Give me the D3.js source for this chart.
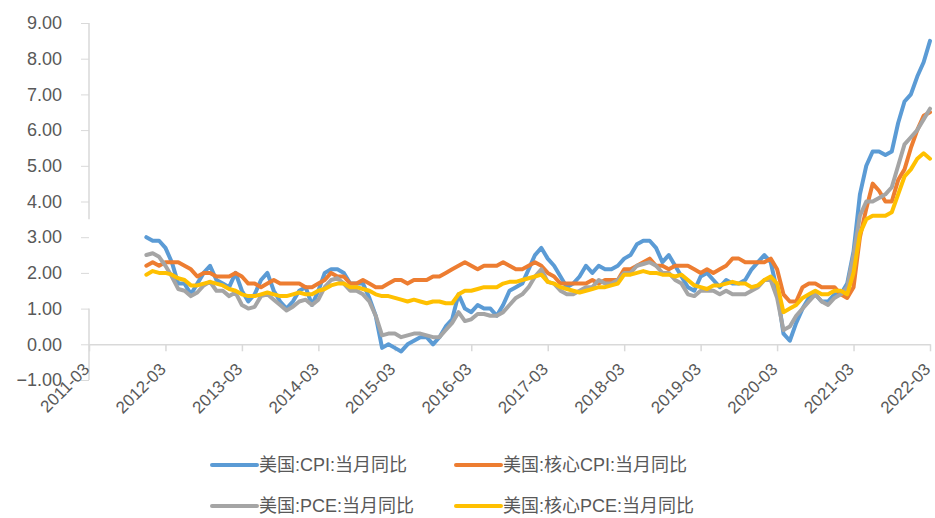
<!DOCTYPE html>
<html>
<head>
<meta charset="utf-8">
<script src="https://cdnjs.cloudflare.com/ajax/libs/d3/7.8.5/d3.min.js"></script>
<style>
  body { margin: 0; background: #fff; }
  text { font-family: "Liberation Sans", "Noto Sans CJK SC", sans-serif; fill: #595959; }
</style>
</head>
<body>
<script>
// monthly series, 2011-12 .. 2022-03 (year-on-year, %)
var firstMonth = "2011-12";

var cpi = [3.0,
  2.9, 2.9, 2.7, 2.3, 1.7, 1.7, 1.4, 1.7, 2.0, 2.2, 1.8, 1.7,
  1.6, 2.0, 1.5, 1.2, 1.4, 1.8, 2.0, 1.5, 1.2, 1.0, 1.2, 1.5,
  1.6, 1.1, 1.5, 2.0, 2.1, 2.1, 2.0, 1.7, 1.7, 1.7, 1.3, 0.8,
  -0.1, 0.0, -0.1, -0.2, 0.0, 0.1, 0.2, 0.2, 0.0, 0.2, 0.5, 0.7,
  1.4, 1.0, 0.9, 1.1, 1.0, 1.0, 0.8, 1.1, 1.5, 1.6, 1.7, 2.1,
  2.5, 2.7, 2.4, 2.2, 1.9, 1.6, 1.7, 1.9, 2.2, 2.0, 2.2, 2.1,
  2.1, 2.2, 2.4, 2.5, 2.8, 2.9, 2.9, 2.7, 2.3, 2.5, 2.2, 1.9,
  1.6, 1.5, 1.9, 2.0, 1.8, 1.6, 1.8, 1.7, 1.7, 1.8, 2.1, 2.3,
  2.5, 2.3, 1.5, 0.3, 0.1, 0.6, 1.0, 1.3, 1.4, 1.2, 1.2, 1.4,
  1.4, 1.7, 2.6, 4.2, 5.0, 5.4, 5.4, 5.3, 5.4, 6.2, 6.8, 7.0,
  7.5, 7.9, 8.5];

var coreCpi = [2.2,
  2.3, 2.2, 2.3, 2.3, 2.3, 2.2, 2.1, 1.9, 2.0, 2.0, 1.9, 1.9,
  1.9, 2.0, 1.9, 1.7, 1.7, 1.6, 1.7, 1.8, 1.7, 1.7, 1.7, 1.7,
  1.6, 1.6, 1.7, 1.8, 2.0, 1.9, 1.9, 1.7, 1.7, 1.8, 1.7, 1.6,
  1.6, 1.7, 1.8, 1.8, 1.7, 1.8, 1.8, 1.8, 1.9, 1.9, 2.0, 2.1,
  2.2, 2.3, 2.2, 2.1, 2.2, 2.2, 2.2, 2.3, 2.2, 2.1, 2.1, 2.2,
  2.3, 2.2, 2.0, 1.9, 1.7, 1.7, 1.7, 1.7, 1.7, 1.8, 1.7, 1.8,
  1.8, 1.8, 2.1, 2.1, 2.2, 2.3, 2.4, 2.2, 2.2, 2.1, 2.2, 2.2,
  2.2, 2.1, 2.0, 2.1, 2.0, 2.1, 2.2, 2.4, 2.4, 2.3, 2.3, 2.3,
  2.3, 2.4, 2.1, 1.4, 1.2, 1.2, 1.6, 1.7, 1.7, 1.6, 1.6, 1.6,
  1.4, 1.3, 1.6, 3.0, 3.8, 4.5, 4.3, 4.0, 4.0, 4.6, 4.9, 5.5,
  6.0, 6.4, 6.5];

var pce = [2.5,
  2.55, 2.45, 2.2, 1.9, 1.55, 1.5, 1.35, 1.45, 1.65, 1.75, 1.5, 1.5,
  1.35, 1.45, 1.1, 1.0, 1.05, 1.35, 1.4, 1.25, 1.1, 0.95, 1.05, 1.2,
  1.25, 1.1, 1.25, 1.6, 1.8, 1.85, 1.7, 1.5, 1.5, 1.4, 1.2, 0.8,
  0.25, 0.3, 0.3, 0.2, 0.25, 0.3, 0.3, 0.25, 0.2, 0.2, 0.4, 0.6,
  0.9, 0.65, 0.7, 0.85, 0.85, 0.8, 0.8, 0.9, 1.1, 1.3, 1.4, 1.6,
  1.9, 2.1, 1.75, 1.7, 1.5, 1.4, 1.4, 1.5, 1.6, 1.6, 1.8, 1.7,
  1.7, 1.8, 2.0, 2.0, 2.2, 2.25, 2.3, 2.2, 2.0, 2.0, 1.8, 1.7,
  1.4, 1.35, 1.5, 1.5, 1.5, 1.4, 1.5, 1.4, 1.4, 1.4, 1.5, 1.6,
  1.8, 1.8, 1.3, 0.4, 0.5, 0.8, 1.0, 1.2, 1.4, 1.2, 1.1, 1.3,
  1.4, 1.6, 2.5, 3.6, 4.0, 4.0, 4.1, 4.2, 4.4, 5.0, 5.6, 5.8,
  6.0, 6.3, 6.6];

var corePce = [1.95,
  2.05, 2.0, 2.0, 1.95, 1.85, 1.8, 1.65, 1.65, 1.7, 1.75, 1.7, 1.65,
  1.55, 1.5, 1.4, 1.35, 1.35, 1.4, 1.45, 1.4, 1.35, 1.35, 1.4, 1.45,
  1.4, 1.4, 1.5, 1.55, 1.65, 1.7, 1.7, 1.6, 1.6, 1.55, 1.5, 1.4,
  1.35, 1.35, 1.3, 1.25, 1.2, 1.25, 1.2, 1.15, 1.2, 1.2, 1.15, 1.15,
  1.4, 1.5, 1.5, 1.55, 1.6, 1.6, 1.6, 1.7, 1.75, 1.75, 1.8, 1.85,
  1.9, 1.95, 1.75, 1.7, 1.6, 1.55, 1.5, 1.45, 1.5, 1.55, 1.6, 1.6,
  1.65, 1.7, 1.95, 1.95, 2.0, 2.05, 2.0, 2.0, 1.95, 1.95, 1.9, 1.95,
  1.8, 1.65, 1.6, 1.55, 1.65, 1.65, 1.7, 1.75, 1.7, 1.7, 1.6, 1.65,
  1.8, 1.9, 1.7, 0.9, 1.0, 1.1, 1.3, 1.4, 1.5, 1.4, 1.4, 1.5,
  1.5, 1.4, 2.0, 3.1, 3.5, 3.6, 3.6, 3.6, 3.7, 4.2, 4.7, 4.9,
  5.2, 5.35, 5.2];

var seriesNames = ["美国:CPI:当月同比", "美国:核心CPI:当月同比", "美国:PCE:当月同比", "美国:核心PCE:当月同比"];
var seriesColors = ["#5b9bd5", "#ed7d31", "#a5a5a5", "#ffc000"];
var yTicks = [-1, 0, 1, 2, 3, 4, 5, 6, 7, 8, 9];

var width = 935, height = 518;
var fmt = d3.timeFormat("%Y-%m");
var parse = d3.timeParse("%Y-%m");

// category axis: every month from 2011-03 to 2022-03
var months = d3.timeMonth.range(parse("2011-03"), d3.timeMonth.offset(parse("2022-03"), 1)).map(fmt);
var xTicks = months.filter(function(d, i) { return i % 12 === 0; });

var svg = d3.select("body").append("svg")
    .attr("width", width)
    .attr("height", height);

var x = d3.scalePoint().domain(months).range([89, 930]);
var y = d3.scaleLinear().domain([-1, 9]).range([380, 23]);

// y axis
var yAxis = svg.append("g")
    .attr("transform", "translate(89,0)")
    .call(d3.axisLeft(y).tickValues(yTicks).tickFormat(d3.format(".2f")).tickSize(8).tickPadding(19));
yAxis.select(".domain").remove();
yAxis.selectAll(".tick line").attr("stroke", "#d9d9d9");
yAxis.selectAll(".tick text").style("font-size", "18px").attr("fill", "#595959");

// the vertical axis line has a gap in the original
[[9, 3.5], [1, -1]].forEach(function(seg) {
  svg.append("line")
    .attr("x1", 89).attr("x2", 89)
    .attr("y1", y(seg[0])).attr("y2", y(seg[1]))
    .attr("stroke", "#d9d9d9").attr("stroke-width", 1.5);
});

// x axis at zero
var xAxis = svg.append("g")
    .attr("transform", "translate(0," + y(0) + ")")
    .call(d3.axisBottom(x).tickValues(xTicks).tickSize(7).tickSizeOuter(0));
xAxis.select(".domain").attr("stroke", "#d9d9d9").attr("stroke-width", 1.5);
xAxis.selectAll(".tick line").attr("stroke", "#d9d9d9").attr("stroke-width", 1.5);
xAxis.selectAll(".tick text")
    .style("font-size", "17px")
    .attr("fill", "#595959")
    .attr("text-anchor", "end")
    .attr("dy", null)
    .attr("y", 0)
    .attr("transform", "translate(1,26) rotate(-45)");

// lines
var startIdx = months.indexOf(firstMonth);
var allSeries = [cpi, coreCpi, pce, corePce];

var line = d3.line()
    .x(function(d, i) { return x(months[startIdx + i]); })
    .y(function(d) { return y(d); });

svg.append("g").selectAll("path")
    .data(allSeries)
  .enter().append("path")
    .attr("d", line)
    .attr("fill", "none")
    .attr("stroke", function(d, i) { return seriesColors[i]; })
    .attr("stroke-width", 4)
    .attr("stroke-linejoin", "round")
    .attr("stroke-linecap", "round");

// legend
var legendPos = [[212, 465], [456, 465], [212, 506], [456, 506]];
var legend = svg.append("g").selectAll("g")
    .data(seriesNames)
  .enter().append("g")
    .attr("transform", function(d, i) { return "translate(" + legendPos[i][0] + "," + legendPos[i][1] + ")"; });

legend.append("line")
    .attr("x1", 0).attr("x2", 45)
    .attr("stroke", function(d, i) { return seriesColors[i]; })
    .attr("stroke-width", 4)
    .attr("stroke-linecap", "round");

legend.append("text")
    .attr("x", 47)
    .attr("dy", "0.35em")
    .style("font-size", "18px")
    .text(function(d) { return d; });
</script>
</body>
</html>
